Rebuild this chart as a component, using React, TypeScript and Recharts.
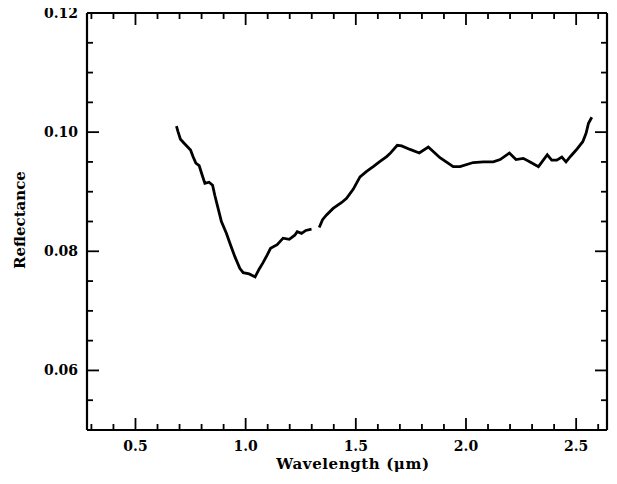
import { Label, Line, LineChart, XAxis, YAxis } from "recharts";

// spectrum; null marks the gap near 1.31 µm
const wavelength = [
  0.686, 0.693, 0.704, 0.724, 0.75, 0.761, 0.774, 0.789, 0.8, 0.815, 0.834, 0.85, 0.86, 0.875, 0.89, 0.913,
  0.931, 0.951, 0.974, 0.989, 1.016, 1.043, 1.061, 1.079, 1.098, 1.113, 1.143, 1.17, 1.198, 1.223, 1.234,
  1.254, 1.273, 1.299, 1.316, 1.334, 1.349, 1.367, 1.397, 1.436, 1.458, 1.488, 1.519, 1.549, 1.579, 1.61,
  1.64, 1.655, 1.688, 1.708, 1.746, 1.788, 1.829, 1.882, 1.942, 1.973, 2.033, 2.079, 2.124, 2.155, 2.197,
  2.227, 2.26, 2.291, 2.329, 2.369, 2.389, 2.412, 2.435, 2.454, 2.476, 2.5, 2.53, 2.545, 2.556, 2.571,
];
const reflectance = [
  0.101, 0.1001, 0.0988, 0.098, 0.097, 0.0959, 0.0948, 0.0944, 0.0931, 0.0914, 0.0916, 0.0911, 0.0894,
  0.0872, 0.085, 0.083, 0.0811, 0.0791, 0.0771, 0.0764, 0.0762, 0.0757, 0.077, 0.0781, 0.0794, 0.0805,
  0.0811, 0.0822, 0.082, 0.0827, 0.0833, 0.083, 0.0835, 0.0837, null, 0.084, 0.0853, 0.0861, 0.0872,
  0.0882, 0.0889, 0.0904, 0.0925, 0.0934, 0.0942, 0.0951, 0.0959, 0.0964, 0.0978, 0.0977, 0.0971, 0.0965,
  0.0975, 0.0957, 0.0942, 0.0942, 0.0949, 0.095, 0.095, 0.0954, 0.0965, 0.0954, 0.0956, 0.095, 0.0942,
  0.0962, 0.0953, 0.0953, 0.0958, 0.095, 0.096, 0.097, 0.0984, 0.0998, 0.1015, 0.1025,
];

const xTicks = [
  0.3, 0.4, 0.5, 0.6, 0.7, 0.8, 0.9, 1.0, 1.1, 1.2, 1.3, 1.4, 1.5, 1.6, 1.7, 1.8, 1.9, 2.0, 2.1, 2.2, 2.3,
  2.4, 2.5, 2.6,
];
const xLabels = [0.5, 1.0, 1.5, 2.0, 2.5];
const yTicks = [
  0.055, 0.06, 0.065, 0.07, 0.075, 0.08, 0.085, 0.09, 0.095, 0.1, 0.105, 0.11, 0.115, 0.12,
];
const yLabels = [0.06, 0.08, 0.1, 0.12];

const data = wavelength.map((w, i) => ({ w, r: reflectance[i] }));

const FONT = "'DejaVu Serif', serif";
const isMajor = (v: number, list: number[]) => list.some((l) => Math.abs(l - v) < 1e-6);

function BottomTick({ x, y, payload }: any) {
  const major = isMajor(payload.value, xLabels);
  return (
    <g>
      <line x1={x} x2={x} y1={y} y2={y - (major ? 12 : 6)} stroke="#000" strokeWidth={1.8} />
      {major && (
        <text x={x} y={y + 21} textAnchor="middle" fontFamily={FONT} fontWeight={700} fontSize={14} fill="#000">
          {payload.value.toFixed(1)}
        </text>
      )}
    </g>
  );
}

function TopTick({ x, y, payload }: any) {
  const major = isMajor(payload.value, xLabels);
  return <line x1={x} x2={x} y1={y} y2={y + (major ? 12 : 6)} stroke="#000" strokeWidth={1.8} />;
}

function LeftTick({ x, y, payload }: any) {
  const major = isMajor(payload.value, yLabels);
  return (
    <g>
      <line x1={x} x2={x + (major ? 12 : 6)} y1={y} y2={y} stroke="#000" strokeWidth={1.8} />
      {major && (
        <text x={x - 9} y={y + 5} textAnchor="end" fontFamily={FONT} fontWeight={700} fontSize={14} fill="#000">
          {payload.value.toFixed(2)}
        </text>
      )}
    </g>
  );
}

function RightTick({ x, y, payload }: any) {
  const major = isMajor(payload.value, yLabels);
  return <line x1={x} x2={x - (major ? 12 : 6)} y1={y} y2={y} stroke="#000" strokeWidth={1.8} />;
}

const axisLine = { stroke: "#000", strokeWidth: 2.2 };

export default function App() {
  // negative margin cancels the default body margin so chart pixels match page pixels
  return (
    <div style={{ width: 617, height: 484, margin: -8, background: "#fff" }}>
      <LineChart width={617} height={484} data={data} margin={{ top: 12, right: 9, bottom: 0, left: 8 }}>
        <XAxis
          dataKey="w"
          type="number"
          domain={[0.28, 2.64]}
          allowDataOverflow
          ticks={xTicks}
          interval={0}
          height={54}
          tickSize={0}
          tickMargin={0}
          tickLine={false}
          axisLine={axisLine}
          tick={<BottomTick />}
        >
          <Label
            content={() => (
              <text x={353} y={469} textAnchor="middle" fontFamily={FONT} fontWeight={700} fontSize={15} letterSpacing={0.6} fill="#000">
                Wavelength (μm)
              </text>
            )}
          />
        </XAxis>
        <XAxis
          xAxisId="top"
          orientation="top"
          dataKey="w"
          type="number"
          domain={[0.28, 2.64]}
          allowDataOverflow
          ticks={xTicks}
          interval={0}
          height={1}
          tickSize={0}
          tickMargin={0}
          tickLine={false}
          axisLine={axisLine}
          tick={<TopTick />}
        />
        <YAxis
          type="number"
          domain={[0.05, 0.12]}
          allowDataOverflow
          ticks={yTicks}
          interval={0}
          width={79}
          tickSize={0}
          tickMargin={0}
          tickLine={false}
          axisLine={axisLine}
          tick={<LeftTick />}
        >
          <Label
            content={() => (
              <text
                x={25}
                y={220}
                transform="rotate(-90, 25, 220)"
                textAnchor="middle"
                fontFamily={FONT}
                fontWeight={700}
                fontSize={15}
                fill="#000"
              >
                Reflectance
              </text>
            )}
          />
        </YAxis>
        <YAxis
          yAxisId="right"
          orientation="right"
          type="number"
          domain={[0.05, 0.12]}
          allowDataOverflow
          ticks={yTicks}
          interval={0}
          width={1}
          tickSize={0}
          tickMargin={0}
          tickLine={false}
          axisLine={axisLine}
          tick={<RightTick />}
        />
        <Line
          dataKey="r"
          type="linear"
          stroke="#000"
          strokeWidth={2.8}
          dot={false}
          connectNulls={false}
          isAnimationActive={false}
        />
        {/* invisible copy so the top/right frame axes get a domain */}
        <Line
          xAxisId="top"
          yAxisId="right"
          dataKey="r"
          stroke="none"
          dot={false}
          activeDot={false}
          isAnimationActive={false}
        />
      </LineChart>
    </div>
  );
}
